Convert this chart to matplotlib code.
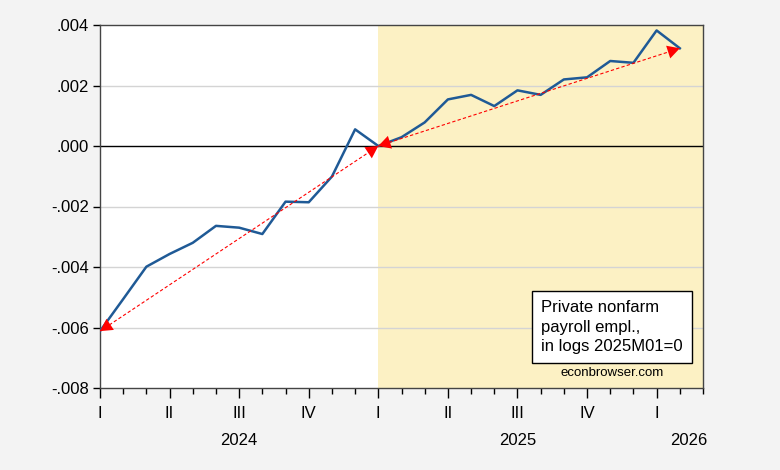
import matplotlib
matplotlib.use("Agg")
import matplotlib.pyplot as plt
import matplotlib.transforms as mtransforms
from matplotlib.ticker import FixedLocator, FuncFormatter

plt.rcParams['font.family'] = ['Liberation Sans', 'DejaVu Sans']

# monthly, 2024M01 .. 2026M02 (log private nonfarm payrolls, 2025M01 = 0)
months = list(range(26))
emp = [-0.00612, -0.00506, -0.00399, -0.00357, -0.00320, -0.00264,
       -0.00270, -0.00291, -0.00184, -0.00186, -0.00101, 0.00055,
       0.00000, 0.00029, 0.00078, 0.00154, 0.00169, 0.00132,
       0.00184, 0.00169, 0.00220, 0.00227, 0.00281, 0.00275,
       0.00382, 0.00323]

# trend arrows: 2024M01 -> 2025M01, 2025M01 -> 2026M02
trend1_x = [0, 12]
trend1_y = [emp[0], emp[12]]
trend2_x = [12, 25]
trend2_y = [emp[12], emp[25]]

quarter_labels = ['I', 'II', 'III', 'IV', 'I', 'II', 'III', 'IV', 'I']
years = ['2024', '2025', '2026']
year_pos = [6, 18, 25.4]

fig = plt.figure(figsize=(7.8, 4.7), dpi=100)
fig.patch.set_facecolor('#f3f3f3')
ax = fig.add_axes([100 / 780, 1 - 388 / 470, 603 / 780, 363 / 470])
ax.set_facecolor('white')

ax.axvspan(12, 26, color='#fcf1c4', zorder=0, lw=0)
for yv in [-0.006, -0.004, -0.002, 0.002]:
    ax.axhline(yv, color='#d4d4d4', lw=1, zorder=1)
ax.axhline(0, color='black', lw=1, zorder=2)

ax.plot(months, emp, color='#1f5a96', lw=1.8, zorder=4)

for tx, ty in [(trend1_x, trend1_y), (trend2_x, trend2_y)]:
    ax.plot(tx, ty, color='red', lw=0.8, ls=(0, (3, 2)), zorder=5)
    ax.annotate('', xy=(tx[1], ty[1]), xytext=(tx[0], ty[0]),
                arrowprops=dict(arrowstyle='<|-|>,head_length=0.55,head_width=0.3',
                                color='red', lw=0, shrinkA=0, shrinkB=0,
                                mutation_scale=16),
                zorder=6)

ax.set_xlim(0, 26)
ax.set_ylim(-0.008, 0.004)
ax.yaxis.set_major_locator(FixedLocator([-0.008, -0.006, -0.004, -0.002, 0, 0.002, 0.004]))
ax.yaxis.set_major_formatter(FuncFormatter(
    lambda v, p: ('-' if v < -1e-9 else '') + ('%.3f' % abs(v))[1:]))

ax.set_xticks(range(0, 25, 3))
ax.set_xticklabels(quarter_labels)
ax.set_xticks(range(0, 27), minor=True)
ax.tick_params(axis='x', which='major', length=7, width=1, direction='out',
               labelsize=12, pad=6)
ax.tick_params(axis='x', which='minor', length=4, width=1, direction='out')
ax.tick_params(axis='y', length=5, width=1, direction='out', labelsize=12, pad=3)

trans = mtransforms.blended_transform_factory(ax.transData, ax.transAxes)
for yr, xp in zip(years, year_pos):
    ax.text(xp, -0.145, yr, transform=trans, ha='center', va='center', fontsize=12)

for sp in ax.spines.values():
    sp.set_color('#444444')
    sp.set_linewidth(1)

ax.text(0.731, 0.168, 'Private nonfarm\npayroll empl.,\nin logs 2025M01=0',
        transform=ax.transAxes, fontsize=12, va='center', ha='left',
        linespacing=1.38, zorder=7,
        bbox=dict(boxstyle='square,pad=0.55', fc='white', ec='black', lw=1))
ax.text(0.849, 0.04, 'econbrowser.com', transform=ax.transAxes, fontsize=9.5,
        ha='center', va='center', zorder=7)

fig.savefig('out.png', dpi=100, facecolor=fig.get_facecolor())
